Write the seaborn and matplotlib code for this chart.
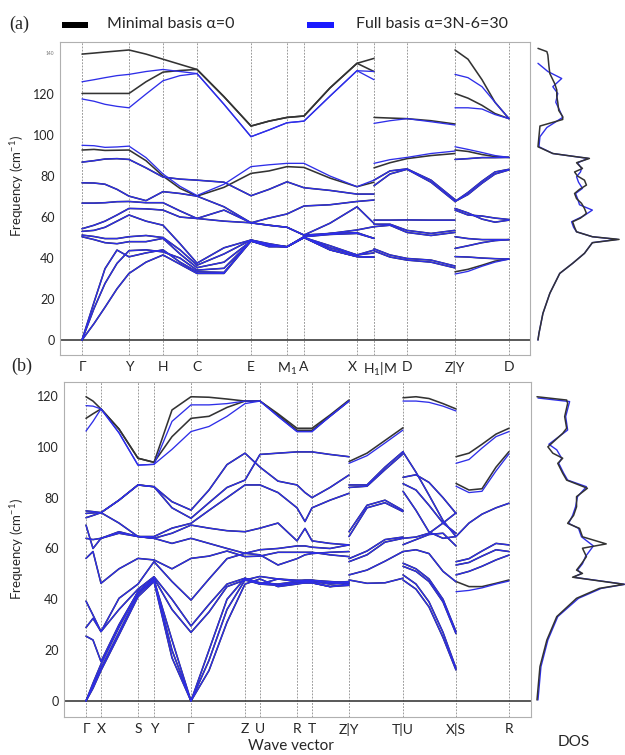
import matplotlib
matplotlib.use("Agg")
import matplotlib.pyplot as plt
import matplotlib.transforms as mtransforms
import seaborn as sns
import pandas as pd
from matplotlib.patches import Rectangle

# ---------------------------------------------------------------- data
# Panel (a): high-symmetry points along the k-path (path coordinate) and labels
a_nodes = [82, 129, 163, 197, 251, 287, 304, 357, 374, 407, 455, 509]
a_labels = ["Γ", "Y", "H", "C", "E", "M$_1$", "A", "X", "H$_1$|M", "D", "Z|Y", "D"]

# path piece 1: Γ-Y-H-C-E-M1-A-X-H1
a_k1 = [82, 94, 105, 117, 129, 146, 163, 180, 197, 224, 251, 269, 287, 304, 330, 357, 374]
a1_min_only = [
    [139.5, 140, 140.5, 141, 141.5, 139.5, 137, 134.5, 132, 118.7, 104.4, 106.8, 108.6, 109.3, 123, 135, 137.4],
    [120.3, 120.3, 120.3, 120.3, 120.3, 126, 130.7, 131.5, 132, 118.7, 104.4, 106.8, 108.6, 109.3, 123, 135, 131],
    [92.7, 93, 92.5, 92.6, 92.7, 87.5, 80, 74, 70.2, 74.5, 81.3, 82.5, 84.6, 84.2, 79, 74.8, 77],
]
a1_full_only = [
    [126, 127, 128, 129, 129.6, 131, 132, 131, 130, 115, 99.2, 102.5, 106, 106.8, 119, 131.4, 127],
    [117.6, 116.5, 115, 114, 113.3, 120, 126.5, 129, 130, 115, 99.2, 102.5, 106, 106.8, 119, 131.4, 131],
    [95, 94.8, 94, 94.2, 94.6, 89, 81, 75, 70.5, 76, 84.6, 85.5, 86.2, 86.2, 80, 74.8, 78],
]
a1_both = [
    [86.8, 87.5, 88.3, 88.5, 88.1, 84, 79.5, 78.5, 78, 77, 70.4, 73.5, 77.2, 74.3, 73, 71.2, 71.2],
    [76.7, 76.6, 76, 73.5, 70.2, 68, 72.4, 71.5, 70.2, 65, 57.2, 59.5, 61.5, 65.4, 66, 67.6, 68.3],
    [66.8, 66.8, 67, 67.5, 67.6, 67, 67, 63, 59.3, 63.4, 57.2, 56, 55, 51.2, 57, 65, 56.9],
    [54.3, 56, 58, 61, 64.2, 64, 63.4, 60, 59.3, 58, 57.2, 56, 55, 51.2, 52, 53.7, 55.3],
    [53, 53.5, 55, 58, 61, 58, 56, 47, 37.5, 45, 48.8, 47, 45.5, 50.4, 52, 52.4, 49.6],
    [51.2, 50.5, 49.5, 49.5, 50.4, 51, 50, 44, 36.5, 42, 48.8, 46.5, 45.5, 50.4, 51.5, 52, 49.6],
    [50.4, 49, 47.5, 47, 48, 48, 49.6, 42, 35.3, 38, 48.3, 46, 45.5, 50, 46, 41.5, 43.9],
    [0, 15.4, 27.6, 37.4, 43.6, 44, 43, 40, 34.1, 35, 48.3, 46, 45.5, 50, 45, 41.5, 42.5],
    [0, 18.4, 34.8, 43.9, 40.6, 42.5, 44, 38, 33.3, 33, 48.3, 46, 45.5, 50, 44, 40.7, 40.4],
    [0, 8, 16, 25, 32.5, 38, 41.5, 37, 32.5, 32.5, 48.3, 45.5, 45.5, 50, 44, 40.7, 40.4],
]
# path piece 2: M-D-Z
a_k2 = [374, 390, 407, 431, 455]
a2_min_only = [[108.6, 108.3, 108, 107, 105.4], [84, 86.5, 88.5, 90, 91]]
a2_full_only = [[105.7, 107, 108, 106.5, 104.9], [86.2, 88, 89.1, 91, 92.2]]
a2_both = [
    [75.3, 81, 83.3, 77, 67.6],
    [78, 82.5, 83.5, 78, 68.5],
    [58.5, 58.5, 58.6, 58.5, 58.5],
    [55.3, 56, 52.5, 51, 52.5],
    [56.5, 56.5, 53.5, 52, 53.5],
    [44.5, 41.5, 39.8, 39, 36.1],
    [43.5, 40.5, 39, 38, 35.2],
]
# path piece 3: Y-D
a_k3 = [455, 468, 482, 495, 509]
a3_min_only = [[141.5, 137, 127, 116, 108], [120.3, 118, 114.5, 110.5, 108],
               [92.7, 92, 90.5, 89.5, 89.1], [33.3, 34.5, 36.5, 38.5, 39.5]]
a3_full_only = [[129.6, 128, 123.6, 116, 108], [113.3, 113.3, 112.7, 110, 108],
                [94.3, 93, 91.5, 90, 89.1], [32.2, 33.5, 36, 38, 39.5]]
a3_both = [
    [88.1, 88.5, 89, 89, 89.1],
    [67.6, 72, 77.5, 82, 83.3],
    [67.6, 71, 76.5, 81, 83],
    [64.2, 62, 59, 57.5, 58.5],
    [63.4, 61, 60.5, 59.5, 58.8],
    [50.4, 49.5, 49, 49, 49],
    [44.7, 46, 47.5, 48.5, 49],
    [40.7, 40.5, 40, 39.7, 39.5],
]

# Panel (b)
b_nodes = [86, 101, 138, 154, 191, 245, 260, 297, 312, 349, 403, 456, 509]
b_labels = ["Γ", "X", "S", "Y", "Γ", "Z", "U", "R", "T", "Z|Y", "T|U", "X|S", "R"]

b_k1 = [86, 93, 101, 119, 138, 154, 172, 191, 209, 227, 245, 260, 278, 297, 305, 312, 330, 349]
b1_min_only = [
    [119.7, 118, 114.9, 107, 95.5, 93.9, 114.5, 119.7, 119.5, 118.8, 118, 118, 113, 107.3, 107.3, 107.3, 112.5, 118.4],
    [111.2, 113, 114.9, 107, 95.5, 93.9, 104, 111.2, 112, 115.5, 118, 118, 112.5, 106.5, 106.5, 106.5, 112, 118],
]
b1_full_only = [
    [116.2, 116, 114.9, 105.5, 92.8, 93.1, 110, 116.5, 116.5, 117, 118, 118, 112, 106, 106, 106, 112, 118],
    [106.2, 110, 114.9, 105.5, 92.8, 93.1, 99, 106, 108, 112, 117, 118, 112, 106, 106, 106, 112, 118],
]
b1_both = [
    [74.8, 74.5, 74.1, 79, 85, 84.3, 78.4, 75.1, 83, 93, 97.5, 92, 86.5, 85, 82, 80, 84, 88.9],
    [73.8, 74, 74.1, 79, 85, 84.3, 76, 71.9, 78, 84, 86.9, 97, 97.5, 98, 98, 98, 97, 96.1],
    [72.1, 73, 74.1, 70, 64.7, 64.7, 68, 69.9, 75, 80, 85, 85, 82, 76, 70.6, 76, 79, 81.7],
    [69.2, 60, 64, 66.6, 64.7, 64, 66, 69.2, 68, 67, 66.6, 68, 70, 63, 67.9, 63, 62, 61.4],
    [64, 63.5, 64, 66, 64.7, 64, 62, 64, 62, 60, 58.1, 57.5, 53.5, 56, 57.5, 58, 58.5, 58.8],
    [56.1, 58.8, 46.3, 52, 56.1, 55.5, 52, 56.1, 57, 59, 56.8, 57, 58.5, 58.5, 58.5, 58.5, 57.5, 56.8],
    [39.3, 33.8, 27.3, 40.4, 46, 54.8, 47, 39.7, 48, 56, 58.1, 59.5, 60, 61, 61, 60.5, 60, 61.4],
    [28.9, 32.5, 27.3, 36, 44, 48.9, 40, 29.5, 38, 46, 48.3, 46, 48, 47, 47.5, 47.5, 46.5, 47],
    [25.5, 24, 15.5, 30, 43, 48.3, 36, 27, 35, 45, 47.6, 49, 48, 47.5, 47.5, 47.5, 47, 46.5],
    [0, 7, 14.5, 29, 43, 47.6, 24, 0, 20, 40, 48.3, 46.5, 46, 47, 47, 47, 46, 46.5],
    [0, 6, 12.9, 27, 42, 47.6, 20, 0, 16, 36, 47.6, 46, 45.5, 46.5, 46.5, 46.5, 45, 45.5],
    [0, 5, 12, 26, 41, 47, 17, 0, 12, 31, 46, 48, 45, 46, 46.5, 46.5, 45, 46],
]
b_k2 = [349, 367, 385, 403]
b2_min_only = [[94.2, 97.5, 102.5, 107.5]]
b2_full_only = [[93.5, 96.5, 101.5, 106.6]]
b2_both = [
    [85, 85, 92, 98.1], [84, 84.5, 91, 97.2], [66.6, 77, 79, 75], [64.7, 76, 78, 74.5],
    [56, 59, 63.5, 64.5], [54.8, 57.5, 62.5, 64], [49.6, 51.5, 55, 58.8], [47.6, 46.3, 46.5, 48.3],
]
b_k3 = [403, 416, 429, 443, 456]
b3_min_only = [[119.3, 119.7, 119, 117, 114.9]]
b3_full_only = [[118, 118, 117.5, 116, 114.1]]
b3_both = [
    [98, 90, 81, 71, 64.7], [88, 89, 86, 80, 73.8], [85.5, 83, 77, 70, 66],
    [82.5, 75, 66.5, 64, 64.7], [64, 64.5, 66, 70, 74], [61.5, 63.5, 65.5, 66, 61],
    [58.8, 59.5, 58, 51, 46.9], [54.2, 52, 48, 40, 27.3], [53, 51, 47, 39, 26.5],
    [49.6, 46, 39, 27, 12.9], [47.6, 44, 37, 25, 12.2],
]
b_k4 = [456, 469, 482, 496, 509]
b4_min_only = [[96.1, 97.5, 101, 105, 107.3], [85.6, 83, 83.5, 92, 98.1], [47, 45, 45, 46.3, 47.6]]
b4_full_only = [[93.5, 95, 99.5, 104, 106], [84.5, 82, 82.5, 90.5, 97.2], [43, 43.5, 44.5, 46, 47.2]]
b4_both = [[64.7, 70, 73.5, 76, 77.8], [54.8, 56, 59, 62, 61.4], [53.5, 54.5, 57, 59.5, 58.8],
           [49.6, 51, 53, 55.5, 57.4]]

# Density of states (frequency, DOS in arbitrary units)
dos_a_min_f = [0, 3.3, 13, 22.8, 32.5, 37.4, 42.3, 47.5, 49.1, 50.4, 52.8, 55, 57.7, 59.5, 61.8, 64.2,
               66.7, 69, 71.5, 73.5, 75.6, 78, 80, 82, 83.7, 85, 86.5, 88.6, 89.4, 91, 94.3, 104.4,
               107.6, 109, 112, 116, 119, 122, 125, 130, 134, 139, 140.7, 142.3]
dos_a_min_v = [2, 3, 7, 14, 24, 37, 49, 57, 84, 57, 41, 39, 37, 45, 51, 49, 46, 41, 39, 44, 51, 49, 42,
               39, 47, 44, 41, 54, 41, 17, 2, 4, 27, 27, 23, 22, 21, 21, 19, 14, 13, 12, 11, 2]
dos_a_full_f = [0, 3.3, 13, 22.8, 32.5, 37.4, 42.3, 47.5, 49.1, 50.4, 52.8, 55, 57.7, 60.5, 63.4, 66,
                69, 71.5, 74, 77, 79.7, 82, 83.7, 86.5, 88.6, 89.4, 91, 94.3, 99.2, 103.7, 108.6, 113,
                116, 120.3, 123.6, 127.6, 131, 135]
dos_a_full_v = [2, 3, 7, 14, 24, 37, 49, 57, 82, 57, 41, 38, 36, 48, 57, 44, 42, 40, 47, 43, 41, 45, 46,
                42, 53, 41, 17, 3, 4, 11, 27, 23, 20, 22, 17, 26, 12, 2]
dos_b_min_f = [0.4, 13.5, 24, 33.2, 40.4, 44.3, 45.9, 48.7, 50.2, 51.5, 54, 56.8, 60.1, 61.8, 64.6, 67.9,
               69.9, 73, 76.4, 80.4, 83.7, 86.9, 89.6, 93.5, 95.5, 97.5, 100, 105.3, 107.3, 111.9,
               117.1, 118.4, 119.7]
dos_b_min_v = [1, 4, 11, 21, 41, 64, 89, 37, 47, 41, 46, 51, 47, 71, 47, 44, 32, 38, 41, 41, 52, 31, 27,
               22, 27, 17, 12, 27, 31, 29, 32, 31, 1]
dos_b_full_f = [0.4, 13.5, 24, 33.2, 40.4, 44.3, 45.9, 48.7, 50.2, 51.5, 54, 56.8, 61, 64.6, 67.9, 69.9,
                73, 76.4, 80.4, 84.3, 86.9, 89.6, 93.5, 95.5, 98.8, 101, 106.6, 111.9, 117.8, 119.2]
dos_b_full_v = [2, 5, 12, 22, 43, 66, 90, 38, 46, 42, 47, 50, 58, 46, 43, 33, 37, 40, 42, 51, 32, 28,
                23, 26, 21, 13, 32, 30, 34, 2]

# ---------------------------------------------------------------- style
sns.set_theme(style="white")
plt.rcParams["font.family"] = ["Lato", "DejaVu Sans"]
plt.rcParams["mathtext.fontset"] = "custom"
plt.rcParams["mathtext.rm"] = "Lato"
plt.rcParams["mathtext.default"] = "regular"

BLACK = "#333333"
BLUE = "#2e2ee8"
GRID = "#8c8c8c"
FRAME = "#b0b0b0"


def band_frame(pieces):
    rows, uid = [], 0
    for k, min_only, full_only, both in pieces:
        for basis, sets in (("Minimal", (min_only, both)), ("Full", (full_only, both))):
            for s in sets:
                for band in s:
                    uid += 1
                    for kk, f in zip(k, band):
                        rows.append((basis, uid, kk, f))
    return pd.DataFrame(rows, columns=["basis", "uid", "k", "freq"])


def draw_bands(ax, df):
    for basis, color, lw in (("Minimal", BLACK, 1.15), ("Full", BLUE, 0.95)):
        sub = df[df["basis"] == basis]
        sns.lineplot(data=sub, x="k", y="freq", units="uid", estimator=None, sort=False,
                     color=color, lw=lw, ax=ax, legend=False)


def style_main(ax, nodes, labels, xlim, ylim, label_y):
    ax.set_xlim(*xlim)
    ax.set_ylim(*ylim)
    for x in nodes:
        ax.axvline(x, color=GRID, lw=0.6, ls=(0, (2.2, 1.6)), zorder=0)
    ax.axhline(0, color="#3c3c3c", lw=1.2, zorder=1)
    for sp in ax.spines.values():
        sp.set_visible(True)
        sp.set_color(FRAME)
        sp.set_linewidth(0.8)
    ax.set_xticks(nodes)
    ax.set_xticklabels(labels, fontsize=10)
    ax.tick_params(axis="x", length=0, pad=4)
    ax.tick_params(axis="y", length=0, pad=4, labelsize=9)
    ax.set_xlabel("")
    ax.set_ylabel("Frequency (cm$^{-1}$)", fontsize=9.5)
    ax.yaxis.set_label_coords(*label_y)


def style_dos(ax, ylim):
    ax.set_xlim(0, 90)
    ax.set_ylim(*ylim)
    ax.axis("off")


def nudge(label, dx_px, fig):
    label.set_transform(label.get_transform() +
                        mtransforms.ScaledTranslation(dx_px / fig.dpi, 0, fig.dpi_scale_trans))


# ---------------------------------------------------------------- figure
fig = plt.figure(figsize=(6.25, 7.55), dpi=100)
W, H = 625.0, 755.0
ax_a = fig.add_axes([60 / W, 1 - 355 / H, 470 / W, 313 / H])
dos_a = fig.add_axes([536 / W, 1 - 355 / H, 89 / W, 313 / H])
ax_b = fig.add_axes([64 / W, 1 - 717 / H, 467 / W, 335 / H])
dos_b = fig.add_axes([536 / W, 1 - 717 / H, 89 / W, 335 / H])

ylim_a = (-7.3, 145.4)
ylim_b = (-6.3, 125.5)

df_a = band_frame([(a_k1, a1_min_only, a1_full_only, a1_both),
                   (a_k2, a2_min_only, a2_full_only, a2_both),
                   (a_k3, a3_min_only, a3_full_only, a3_both)])
df_b = band_frame([(b_k1, b1_min_only, b1_full_only, b1_both),
                   (b_k2, b2_min_only, b2_full_only, b2_both),
                   (b_k3, b3_min_only, b3_full_only, b3_both),
                   (b_k4, b4_min_only, b4_full_only, b4_both)])

draw_bands(ax_a, df_a)
draw_bands(ax_b, df_b)

style_main(ax_a, a_nodes, a_labels, (60, 530), ylim_a, (-0.072, 0.54))
ax_a.set_yticks([0, 20, 40, 60, 80, 100, 120, 140])
ax_a.set_yticklabels(["0", "20", "40", "60", "80", "100", "120", "140"])
small = ax_a.get_yticklabels()[-1]
small.set_fontsize(3.5)
small.set_color("#777777")
xl = ax_a.get_xticklabels()
nudge(xl[7], -5, fig)   # X
nudge(xl[8], 6, fig)    # H1|M

style_main(ax_b, b_nodes, b_labels, (64, 531), ylim_b, (-0.081, 0.5))
ax_b.set_yticks([0, 20, 40, 60, 80, 100, 120])

for ax, f1, v1, f2, v2, yl in ((dos_a, dos_a_min_f, dos_a_min_v, dos_a_full_f, dos_a_full_v, ylim_a),
                                (dos_b, dos_b_min_f, dos_b_min_v, dos_b_full_f, dos_b_full_v, ylim_b)):
    sns.lineplot(x=v2, y=f2, sort=False, estimator=None, color=BLUE, lw=1.0, ax=ax)
    sns.lineplot(x=v1, y=f1, sort=False, estimator=None, color=BLACK, lw=1.1, ax=ax)
    style_dos(ax, yl)

# legend and panel letters
fig.add_artist(Rectangle((62 / W, 1 - 28 / H), 26 / W, 6 / H, transform=fig.transFigure,
                         color="black", lw=0))
fig.text(107 / W, 1 - 24 / H, "Minimal basis α=0", fontsize=11.5, va="center", ha="left")
fig.add_artist(Rectangle((307 / W, 1 - 28 / H), 27 / W, 6 / H, transform=fig.transFigure,
                         color="#1a1aff", lw=0))
fig.text(356 / W, 1 - 24 / H, "Full basis α=3N-6=30", fontsize=11.5, va="center", ha="left")
fig.text(9 / W, 1 - 24 / H, "(a)", fontsize=13, va="center", ha="left", family="Liberation Serif")
fig.text(11 / W, 1 - 366 / H, "(b)", fontsize=13, va="center", ha="left", family="Liberation Serif")
fig.text(291 / W, 1 - 746 / H, "Wave vector", fontsize=11, va="center", ha="center")
fig.text(574 / W, 1 - 742 / H, "DOS", fontsize=11, va="center", ha="center")

fig.savefig("out.png", dpi=100)
